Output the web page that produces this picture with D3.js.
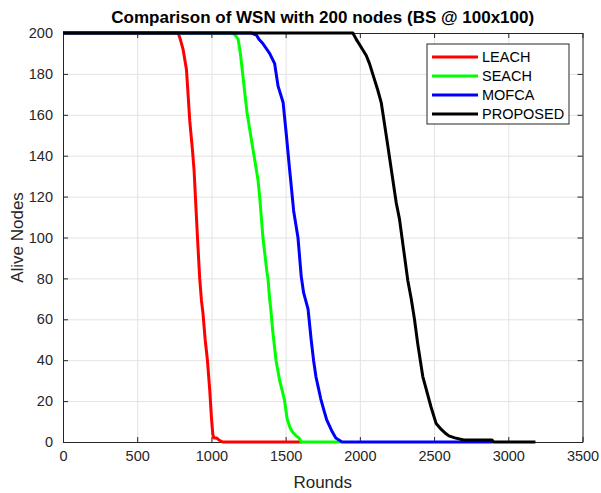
<!DOCTYPE html>
<html>
<head>
<meta charset="utf-8">
<script src="https://cdn.jsdelivr.net/npm/d3@7"></script>
<style>
  body { margin: 0; background: #fff; }
  svg { display: block; font-family: 'Liberation Sans', Arial, sans-serif; }
</style>
</head>
<body>
<svg id="chart" width="601" height="493"></svg>
<script>
// data (round, alive nodes)
const seriesNames = ['LEACH', 'SEACH', 'MOFCA', 'PROPOSED']
const seriesColors = ['#ff0000', '#00ff00', '#0000ff', '#000000']

const leachRounds = [0, 776, 790, 809, 832, 854, 872, 883, 892, 906, 921, 933, 943, 958, 973, 989, 1000, 1009, 1016, 1034, 1050, 1076, 1610]
const leachAlive = [200, 200, 197, 192, 182, 157, 143, 133, 120, 100, 80, 69, 63, 50, 40, 25, 12, 4, 2, 2, 1, 0, 0]

const seachRounds = [0, 1142, 1160, 1180, 1195, 1240, 1280, 1303, 1314, 1325, 1347, 1374, 1381, 1392, 1400, 1412, 1435, 1460, 1491, 1511, 1530, 1545, 1570, 1590, 1605, 1875]
const seachAlive = [200, 200, 199, 197, 190, 161, 143, 133, 128, 120, 100, 83, 80, 70, 65, 55, 40, 30, 21, 11, 7, 5, 3, 2, 0, 0]

const mofcaRounds = [0, 1269, 1303, 1320, 1345, 1392, 1426, 1449, 1483, 1505, 1527, 1534, 1554, 1583, 1605, 1621, 1651, 1672, 1688, 1704, 1737, 1760, 1776, 1814, 1838, 1880, 2890]
const mofcaAlive = [200, 200, 199, 197, 195, 190, 185, 174, 166, 150, 133, 128, 113, 100, 81, 73, 65, 50, 40, 32, 21, 15, 11, 5, 2, 0, 0]

const proposedRounds = [0, 1953, 1975, 2009, 2043, 2065, 2121, 2144, 2188, 2245, 2267, 2323, 2346, 2368, 2390, 2424, 2480, 2514, 2550, 2581, 2600, 2640, 2700, 2890, 2900, 3183]
const proposedAlive = [200, 200, 197, 193, 189, 185, 172, 166, 145, 117, 109, 79, 70, 60, 48, 32, 17, 9, 6, 4, 3, 2, 1, 1, 0, 0]

const xTicks = [0, 500, 1000, 1500, 2000, 2500, 3000, 3500]
const yTicks = [0, 20, 40, 60, 80, 100, 120, 140, 160, 180, 200]

const roundsList = [leachRounds, seachRounds, mofcaRounds, proposedRounds]
const aliveList = [leachAlive, seachAlive, mofcaAlive, proposedAlive]

const svg = d3.select('#chart')
const margin = {top: 33, right: 18.5, bottom: 51, left: 63}
const width = +svg.attr('width') - margin.left - margin.right
const height = +svg.attr('height') - margin.top - margin.bottom
const axisColor = '#262626'
const fmt = d3.format('d')

const x = d3.scaleLinear().domain([0, 3500]).range([0, width])
const y = d3.scaleLinear().domain([0, 200]).range([height, 0])

const g = svg.append('g').attr('transform', 'translate(' + margin.left + ',' + margin.top + ')')

// grid
g.append('g')
  .attr('class', 'grid')
  .attr('transform', 'translate(0,' + height + ')')
  .call(d3.axisBottom(x).tickValues(xTicks).tickSize(-height).tickFormat(''))
g.append('g')
  .attr('class', 'grid')
  .call(d3.axisLeft(y).tickValues(yTicks).tickSize(-width).tickFormat(''))
g.selectAll('.grid .domain').remove()
g.selectAll('.grid line').attr('stroke', '#e3e3e3').attr('stroke-width', 1)

// axes, ticks inward on all four sides
const xAxis = g.append('g')
  .attr('transform', 'translate(0,' + height + ')')
  .call(d3.axisBottom(x).tickValues(xTicks).tickFormat(fmt).tickSizeInner(-5).tickSizeOuter(0).tickPadding(9))
const yAxis = g.append('g')
  .call(d3.axisLeft(y).tickValues(yTicks).tickFormat(fmt).tickSizeInner(-5).tickSizeOuter(0).tickPadding(10))
const topAxis = g.append('g')
  .call(d3.axisTop(x).tickValues(xTicks).tickSizeInner(-5).tickSizeOuter(0).tickFormat(''))
const rightAxis = g.append('g')
  .attr('transform', 'translate(' + width + ',0)')
  .call(d3.axisRight(y).tickValues(yTicks).tickSizeInner(-5).tickSizeOuter(0).tickFormat(''))

;[xAxis, yAxis, topAxis, rightAxis].forEach(a => {
  a.select('.domain').attr('stroke', axisColor)
  a.selectAll('.tick line').attr('stroke', axisColor)
  a.selectAll('.tick text')
    .attr('fill', axisColor)
    .attr('font-size', 14.5)
    .attr('font-family', "'Liberation Sans', Arial, sans-serif")
})

// lines
const line = d3.line()
  .x(d => x(d[0]))
  .y(d => y(d[1]))

roundsList.forEach((rounds, i) => {
  const pts = rounds.map((r, j) => [r, aliveList[i][j]])
  g.append('path')
    .datum(pts)
    .attr('fill', 'none')
    .attr('stroke', seriesColors[i])
    .attr('stroke-width', 3)
    .attr('stroke-linejoin', 'round')
    .attr('d', line)
})

// title and labels
svg.append('text')
  .attr('x', margin.left + width / 2)
  .attr('y', 23)
  .attr('text-anchor', 'middle')
  .attr('font-size', 17)
  .attr('font-weight', 'bold')
  .attr('fill', '#000')
  .text('Comparison of WSN with 200 nodes (BS @ 100x100)')

svg.append('text')
  .attr('x', margin.left + width / 2)
  .attr('y', 488)
  .attr('text-anchor', 'middle')
  .attr('font-size', 17)
  .attr('fill', axisColor)
  .text('Rounds')

svg.append('text')
  .attr('transform', 'translate(23,' + (margin.top + height / 2) + ') rotate(-90)')
  .attr('text-anchor', 'middle')
  .attr('font-size', 17)
  .attr('fill', axisColor)
  .text('Alive Nodes')

// legend
const legend = svg.append('g').attr('transform', 'translate(427,44)')
legend.append('rect')
  .attr('width', 142)
  .attr('height', 80)
  .attr('fill', '#fff')
  .attr('stroke', axisColor)
  .attr('stroke-width', 1)

seriesNames.forEach((name, i) => {
  const row = legend.append('g').attr('transform', 'translate(0,' + (13 + i * 19) + ')')
  row.append('line')
    .attr('x1', 5).attr('x2', 51)
    .attr('stroke', seriesColors[i])
    .attr('stroke-width', 3)
  row.append('text')
    .attr('x', 55)
    .attr('dy', '0.35em')
    .attr('font-size', 14.5)
    .attr('fill', '#000')
    .text(name)
})
</script>
</body>
</html>
